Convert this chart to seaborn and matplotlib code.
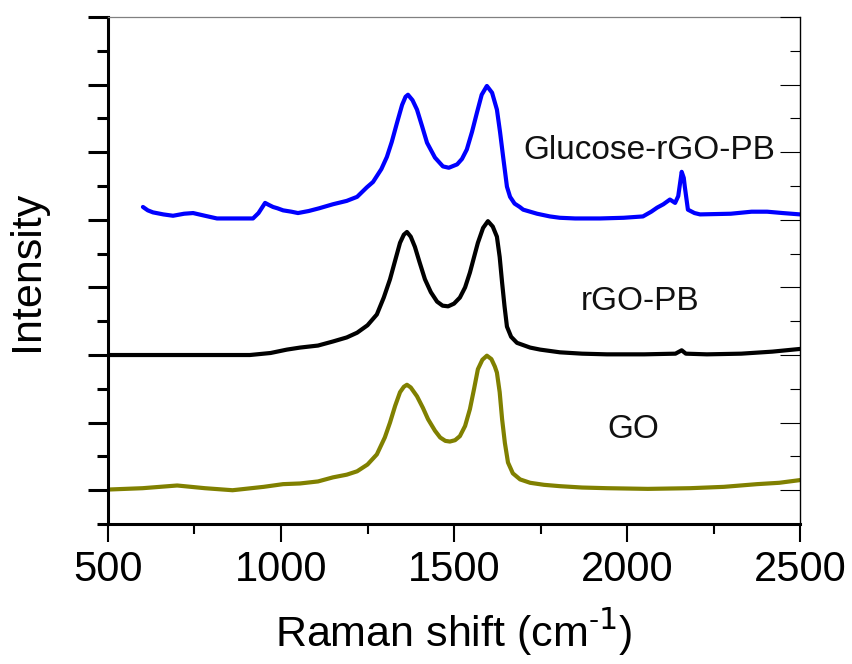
import matplotlib
matplotlib.use("Agg")
import matplotlib.pyplot as plt
import numpy as np
import pandas as pd
import seaborn as sns
from matplotlib.ticker import MultipleLocator, NullFormatter

# ------------------------------------------------------------------
# Data (Raman shift in cm-1, stacked intensity)
# ------------------------------------------------------------------
go_x = [500, 600, 700, 780, 860, 950, 1006, 1055, 1107, 1150, 1190, 1220, 1250,
        1277, 1300, 1315, 1330, 1344, 1355, 1364, 1375, 1393, 1410, 1425, 1445,
        1460, 1475, 1488, 1503, 1517, 1532, 1546, 1558, 1569, 1582, 1595, 1608,
        1618, 1624, 1632, 1639, 1647, 1656, 1670, 1691, 1720, 1760, 1806, 1870,
        1942, 2060, 2182, 2280, 2376, 2440, 2500]
go_y = [0.01, 0.03, 0.07, 0.03, 0.00, 0.05, 0.09, 0.10, 0.13, 0.19, 0.23, 0.28, 0.38,
        0.53, 0.78, 1.00, 1.25, 1.45, 1.53, 1.56, 1.52, 1.39, 1.22, 1.05, 0.88,
        0.78, 0.73, 0.72, 0.74, 0.80, 0.95, 1.20, 1.50, 1.79, 1.93, 1.99, 1.94,
        1.83, 1.74, 1.45, 1.05, 0.70, 0.41, 0.25, 0.16, 0.11, 0.08, 0.06, 0.04,
        0.03, 0.02, 0.03, 0.05, 0.09, 0.11, 0.15]

rgo_x = [500, 600, 700, 800, 910, 970, 1017, 1055, 1107, 1150, 1190, 1220, 1250,
         1277, 1297, 1315, 1330, 1344, 1355, 1364, 1375, 1387, 1400, 1416, 1433,
         1451, 1467, 1483, 1500, 1517, 1532, 1546, 1558, 1569, 1584, 1598, 1612,
         1624, 1632, 1639, 1646, 1653, 1665, 1682, 1720, 1749, 1806, 1870, 1942,
         2050, 2140, 2158, 2170, 2231, 2330, 2420, 2500]
rgo_y = [2.00, 2.00, 2.00, 2.00, 2.00, 2.03, 2.08, 2.11, 2.14, 2.20, 2.26, 2.33, 2.44,
         2.60, 2.85, 3.12, 3.40, 3.66, 3.78, 3.82, 3.75, 3.60, 3.38, 3.12, 2.93,
         2.79, 2.73, 2.72, 2.76, 2.85, 3.00, 3.22, 3.45, 3.66, 3.88, 3.98, 3.90,
         3.75, 3.45, 3.07, 2.72, 2.42, 2.27, 2.18, 2.11, 2.08, 2.04, 2.02, 2.01,
         2.01, 2.02, 2.07, 2.02, 2.01, 2.02, 2.05, 2.09]

glu_x = [601, 615, 630, 660, 688, 720, 746, 780, 815, 870, 919, 935, 954, 965, 977,
         990, 1006, 1030, 1049, 1080, 1110, 1150, 1190, 1220, 1248, 1266, 1290,
         1306, 1320, 1335, 1350, 1360, 1367, 1380, 1393, 1408, 1422, 1445, 1468,
         1485, 1509, 1523, 1537, 1552, 1566, 1580, 1595, 1610, 1624, 1633, 1642,
         1653, 1662, 1675, 1690, 1700, 1740, 1777, 1806, 1850, 1922, 1990, 2046,
         2070, 2087, 2105, 2124, 2139, 2148, 2158, 2164, 2167, 2176, 2195, 2211,
         2300, 2360, 2405, 2450, 2500]
glu_y = [4.19, 4.14, 4.11, 4.08, 4.06, 4.09, 4.10, 4.06, 4.02, 4.02, 4.02, 4.10, 4.25,
         4.22, 4.19, 4.17, 4.14, 4.12, 4.10, 4.13, 4.17, 4.23, 4.28, 4.34, 4.48,
         4.56, 4.75, 4.93, 5.15, 5.43, 5.70, 5.82, 5.85, 5.77, 5.63, 5.38, 5.14,
         4.92, 4.79, 4.77, 4.82, 4.90, 5.04, 5.30, 5.58, 5.85, 5.98, 5.88, 5.63,
         5.30, 4.93, 4.49, 4.34, 4.24, 4.19, 4.15, 4.09, 4.05, 4.03, 4.02, 4.02,
         4.03, 4.05, 4.12, 4.18, 4.23, 4.30, 4.25, 4.35, 4.71, 4.62, 4.49, 4.15,
         4.10, 4.08, 4.09, 4.12, 4.12, 4.10, 4.08]

labels = ["GO", "rGO-PB", "Glucose-rGO-PB"]
colors = ["#808000", "#000000", "#0000ff"]
label_x = [2017, 2038, 2064]
label_y = [0.90, 2.79, 5.03]

#================================================================================================
# Plot
#================================================================================================
sns.set_theme(style="ticks")
plt.rcParams['font.family'] = ['Liberation Sans', 'DejaVu Sans']
plt.rcParams['axes.unicode_minus'] = False

fig = plt.figure(figsize=(8.53, 6.64), dpi=100)
ax = fig.add_axes([0.1266, 0.2108, 0.8113, 0.7636])

for xs, ys, c in zip([go_x, rgo_x, glu_x], [go_y, rgo_y, glu_y], colors):
    df = pd.DataFrame({'x': xs, 'y': ys})
    sns.lineplot(data=df, x='x', y='y', ax=ax, color=c, linewidth=3.0,
                 sort=False, estimator=None)

for t, tx, ty in zip(labels, label_x, label_y):
    ax.text(tx, ty, t, fontsize=24, ha='center', va='center', color='#111111')

ax.set_xlim(500, 2500)
ax.set_ylim(-0.5, 7)
ax.xaxis.set_major_locator(MultipleLocator(500))
ax.xaxis.set_minor_locator(MultipleLocator(250))
ax.yaxis.set_major_locator(MultipleLocator(1))
ax.yaxis.set_minor_locator(MultipleLocator(0.5))
ax.yaxis.set_major_formatter(NullFormatter())

ax.tick_params(axis='x', which='major', direction='out', length=13, width=1.5,
               labelsize=30, pad=6, color='black', labelcolor='black')
ax.tick_params(axis='x', which='minor', direction='out', length=7, width=1.5, color='black')
ax.tick_params(axis='y', which='major', direction='out', length=14.4, width=2.2, color='black')
ax.tick_params(axis='y', which='minor', direction='out', length=8, width=2.2, color='black')

# plain hyphen in the superscript, as in the reference
ax.set_xlabel("Raman shift (cm$^{\\mathregular{\u2010}1}$)", fontsize=31, labelpad=12, color='black')
ax.set_ylabel("Intensity", fontsize=31, labelpad=26, color='black')

for side in ['left', 'bottom']:
    ax.spines[side].set_linewidth(2.2)
    ax.spines[side].set_color('black')
ax.spines['top'].set_linewidth(0.9)
ax.spines['top'].set_color('#808080')
ax.spines['right'].set_visible(False)

# right-hand inward ticks
ax2 = ax.twinx()
ax2.set_ylim(ax.get_ylim())
ax2.yaxis.set_major_locator(MultipleLocator(1))
ax2.yaxis.set_minor_locator(MultipleLocator(0.5))
ax2.yaxis.set_major_formatter(NullFormatter())
ax2.tick_params(axis='y', which='major', direction='in', length=14.4, width=0.8, color='black')
ax2.tick_params(axis='y', which='minor', direction='in', length=7, width=0.8, color='black')
for side in ['left', 'top', 'bottom']:
    ax2.spines[side].set_visible(False)
ax2.spines['right'].set_linewidth(1.0)
ax2.spines['right'].set_color('black')

fig.savefig('out.png', dpi=100)
plt.close(fig)
